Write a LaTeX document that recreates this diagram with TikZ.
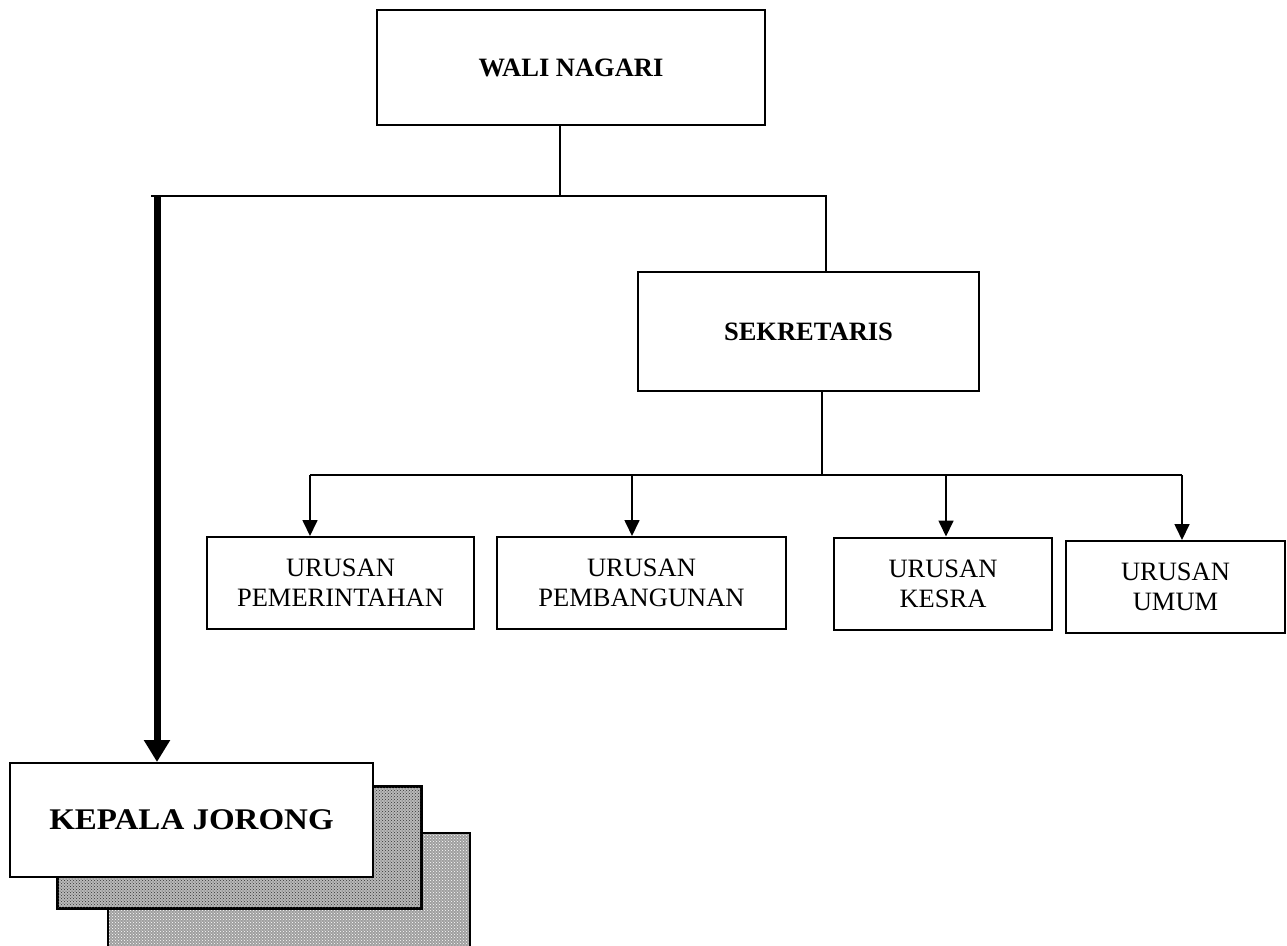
\documentclass[tikz,border=0pt]{standalone}
\usepackage{fontspec}
\usepackage{graphicx}
\setmainfont{Liberation Serif}
\usetikzlibrary{arrows.meta,patterns}
\begin{document}
\begin{tikzpicture}[x=1pt,y=-1pt,
  box/.style={draw,line width=2pt,fill=white,inner sep=0pt},
  subbox/.style={box,minimum height=92pt,align=center,font=\fontsize{26.5}{30}\selectfont},
  conn/.style={line width=1.7pt},
  arr/.style={conn,-{Triangle[width=15pt,length=16pt]}},
  bigarr/.style={line width=7pt,-{Triangle[width=25pt,length=22pt]}},
  btitle/.style={font=\fontsize{26.5}{30}\selectfont\bfseries}
]
\useasboundingbox (0,0) rectangle (1287,945);
\fill[white] (0,0) rectangle (1287,945);

% top boxes
\node[box,minimum width=388pt,minimum height=115pt,btitle] (wali) at (571,67.5) {WALI NAGARI};
\node[box,minimum width=341pt,minimum height=119pt,btitle] (sek) at (808.5,331.5) {SEKRETARIS};

% sub boxes
\node[subbox,minimum width=267pt] (pem) at (340.5,583) {URUSAN\\PEMERINTAHAN};
\node[subbox,minimum width=289pt] (pbg) at (641.5,583) {URUSAN\\PEMBANGUNAN};
\node[subbox,minimum width=218pt] (kes) at (943,583.5) {URUSAN\\KESRA};
\node[subbox,minimum width=219pt] (umu) at (1175.5,587) {URUSAN\\UMUM};

% kepala jorong stack
\fill[gray!75] (108,833) rectangle (470,950);
\fill[pattern=crosshatch dots,pattern color=white] (108,833) rectangle (470,950);
\draw[line width=2pt] (108,950) -- (108,833) -- (470,833) -- (470,950);
\node[box,fill=gray!55,minimum width=363pt,minimum height=121pt] (kj2) at (239.5,847.5) {};
\fill[pattern=crosshatch dots,pattern color=black!80] (kj2.north west) rectangle (kj2.south east);
\draw[line width=2pt] (kj2.north west) rectangle (kj2.south east);
\node[box,minimum width=363pt,minimum height=114pt,font=\fontsize{30}{34}\selectfont\bfseries] (kj1) at (191.5,820) {\scalebox{1.1}[1]{KEPALA JORONG}};

% connectors
\coordinate (j1) at (560,196);
\coordinate (hl) at (151,196);
\coordinate (hr) at (826,196);
\coordinate (ta) at (157,196);
\draw[conn] (j1 |- wali.south) -- (j1);
\draw[conn] (hl) -- (hr) -- (hr |- sek.north);
\draw[bigarr] (ta) -- (ta |- kj1.north);

\coordinate (j2) at (822,475);
\coordinate (a1) at (310,475);
\coordinate (a2) at (632,475);
\coordinate (a3) at (946,475);
\coordinate (a4) at (1182,475);
\draw[conn] (j2 |- sek.south) -- (j2);
\draw[conn] (a1) -- (a4);
\draw[arr] (a1) -- (a1 |- pem.north);
\draw[arr] (a2) -- (a2 |- pbg.north);
\draw[arr] (a3) -- (a3 |- kes.north);
\draw[arr] (a4) -- (a4 |- umu.north);
\end{tikzpicture}
\end{document}
